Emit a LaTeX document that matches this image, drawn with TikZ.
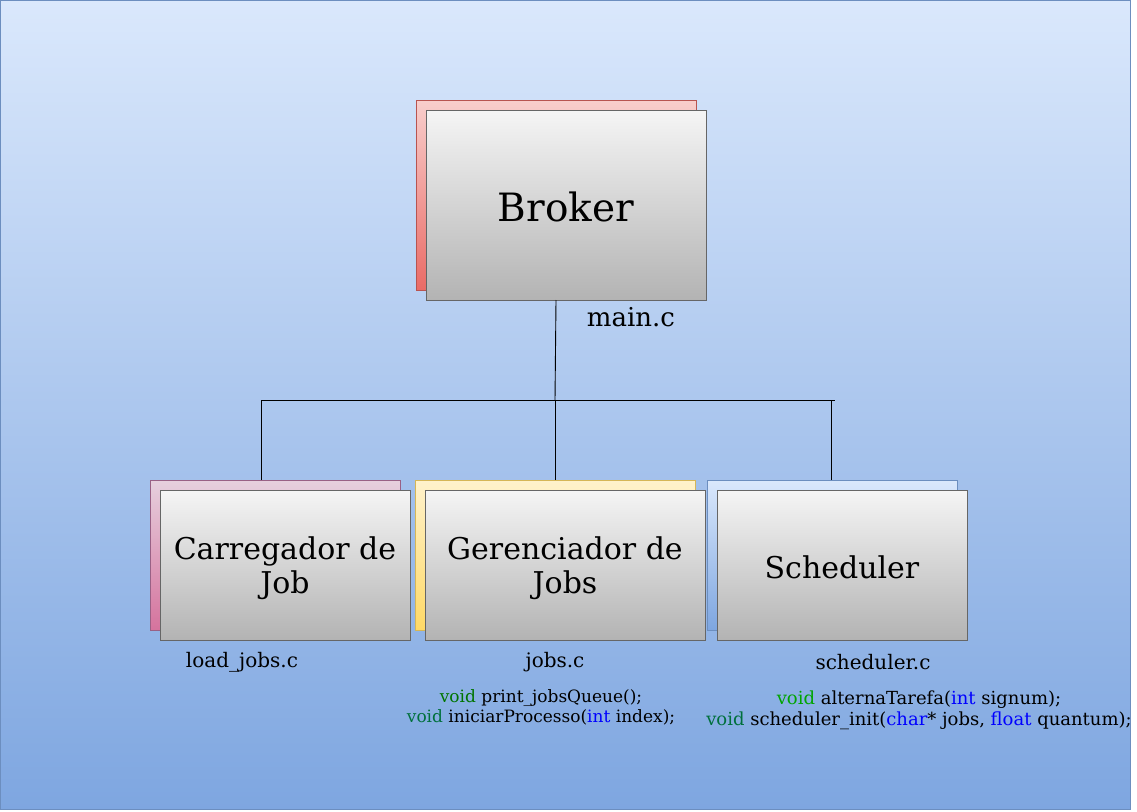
\documentclass[tikz,border=0pt]{standalone}
\usepackage{fontspec}
\setmainfont{DejaVu Serif}
\definecolor{bgtop}{HTML}{DAE8FC}
\definecolor{bgbot}{HTML}{7EA6E0}
\definecolor{bgline}{HTML}{6C8EBF}
\definecolor{redtop}{HTML}{F8CECC}
\definecolor{redbot}{HTML}{EA6B66}
\definecolor{redline}{HTML}{B85450}
\definecolor{pinktop}{HTML}{E6D0DE}
\definecolor{pinkbot}{HTML}{D5739D}
\definecolor{pinkline}{HTML}{996185}
\definecolor{yeltop}{HTML}{FFF2CC}
\definecolor{yelbot}{HTML}{FFD966}
\definecolor{yelline}{HTML}{D6B656}
\definecolor{graytop}{HTML}{F5F5F5}
\definecolor{graybot}{HTML}{B3B3B3}
\definecolor{grayline}{HTML}{666666}
\definecolor{kwgreenA}{HTML}{007400}
\definecolor{kwgreenB}{HTML}{00703C}
\definecolor{kwgreenC}{HTML}{00A400}
\definecolor{kwblue}{HTML}{0000FF}
\tikzset{
  backbox/.style={rectangle, inner sep=0pt, outer sep=0pt, line width=0.8pt},
  frontbox/.style={rectangle, inner sep=0pt, outer sep=0pt, line width=0.8pt, draw=grayline, top color=graytop, bottom color=graybot},
  boxtext/.style={inner sep=0pt, align=center, text=black, font=\fontsize{30}{34.5}\selectfont},
  conn/.style={draw=black, line width=0.9pt},
  filelbl/.style={inner sep=0pt, font=\fontsize{20}{24}\selectfont},
  codelbl/.style={inner sep=0pt, align=center, font=\fontsize{17}{20.5}\selectfont},
  codelblB/.style={inner sep=0pt, align=center, font=\fontsize{18}{21}\selectfont}
}
\newcommand{\kwA}[1]{\textcolor{kwgreenA}{#1}}
\newcommand{\kwB}[1]{\textcolor{kwgreenB}{#1}}
\newcommand{\kwC}[1]{\textcolor{kwgreenC}{#1}}
\newcommand{\kwT}[1]{\textcolor{kwblue}{#1}}
\begin{document}
\begin{tikzpicture}[x=1pt,y=-1pt]
\useasboundingbox (0,0) rectangle (1137,811);
\node[rectangle, draw=bgline, line width=1pt, top color=bgtop, bottom color=bgbot, minimum width=1130pt, minimum height=809pt, inner sep=0pt] (bg) at (565.5,405) {};

% Broker
\node[backbox, draw=redline, top color=redtop, bottom color=redbot, minimum width=280pt, minimum height=190pt] (brokerback) at (556,195) {};
\node[frontbox, minimum width=280pt, minimum height=190pt] (broker) at (566,205) {};
\node[boxtext, font=\fontsize{39}{45}\selectfont] (brokertxt) at ([yshift=-2pt]broker.center) {Broker};
\node[inner sep=0pt, font=\fontsize{26}{30}\selectfont] (mainc) at (631,317) {main.c};

% Carregador
\node[backbox, draw=pinkline, top color=pinktop, bottom color=pinkbot, minimum width=250pt, minimum height=150pt] (carback) at (275,555) {};
\node[frontbox, minimum width=250pt, minimum height=150pt] (car) at (285,565) {};
\node[boxtext] (cartxt) at ([yshift=-3pt]car.center) {Carregador de\\Job};
\node[filelbl] (loadc) at (242,662) {load\_jobs.c};

% Gerenciador
\node[backbox, draw=yelline, top color=yeltop, bottom color=yelbot, minimum width=280pt, minimum height=150pt] (gerback) at (555,555) {};
\node[frontbox, minimum width=280pt, minimum height=150pt] (ger) at (565,565) {};
\node[boxtext] (gertxt) at ([yshift=-3pt]ger.center) {Gerenciador de\\Jobs};
\node[filelbl] (jobsc) at (555,662) {jobs.c};
\node[codelbl] (jobscode) at (541,707.5) {\kwA{void} print\_jobsQueue();\\\kwB{void} iniciarProcesso(\kwT{int} index);};

% Scheduler
\node[backbox, draw=bgline, top color=bgtop, bottom color=bgbot, minimum width=250pt, minimum height=150pt] (schback) at (832,555) {};
\node[frontbox, minimum width=250pt, minimum height=150pt] (sch) at (842,565) {};
\node[boxtext] (schtxt) at ([yshift=-2pt]sch.center) {Scheduler};
\node[filelbl] (schc) at (873,662) {scheduler.c};
\node[codelblB] (schcode) at (919,710) {\kwC{void} alternaTarefa(\kwT{int} signum);\\\kwB{void} scheduler\_init(\kwT{char}* jobs, \kwT{float} quantum);};

% connectors
\coordinate (hub) at (555,400);
\coordinate (jl) at (261,400);
\coordinate (jr) at (835,400);
\coordinate (jc) at (831,400);
\draw[conn] (brokerback.south |- broker.south) -- (hub);
\draw[conn] (jl) -- (jr);
\draw[conn] (jl) -- (jl |- carback.north);
\draw[conn] (hub) -- (gerback.north);
\draw[conn] (jc) -- (jc |- schback.north);
\end{tikzpicture}
\end{document}
